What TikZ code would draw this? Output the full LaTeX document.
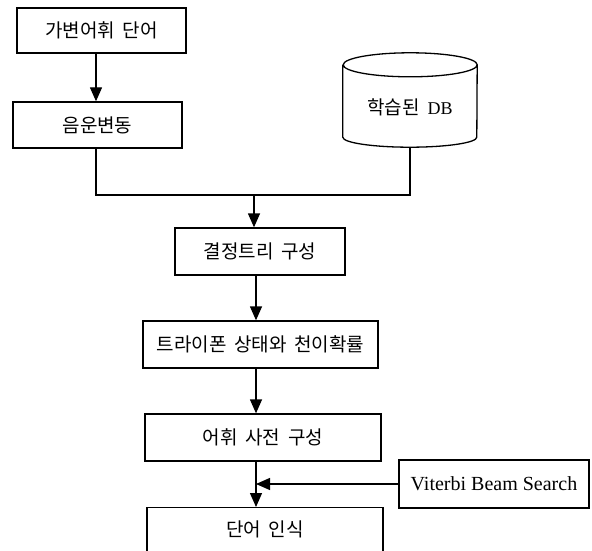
\documentclass[tikz,border=0pt]{standalone}
\usepackage{fontspec}
\setmainfont{Liberation Serif}
\newfontfamily\kr[WordSpace=1.8]{Noto Sans CJK KR}
\usetikzlibrary{arrows.meta,calc}
\begin{document}
\begin{tikzpicture}[x=1pt,y=-1pt,
  kfont/.style={font=\kr\fontsize{19}{21}\selectfont},
  box/.style={draw,line width=1.3pt,inner sep=0pt,kfont},
  line/.style={line width=1.3pt},
  arr/.style={line width=1.3pt,-{Triangle[length=14pt,width=12pt]}}]
\useasboundingbox (0,0) rectangle (592,551);
\clip (0,0) rectangle (592,551);
% boxes (center, width x height)
\node[box,minimum width=169pt,minimum height=45pt] (b1) at (101.5,30.5) {가변어휘 단어};
\node[box,minimum width=169pt,minimum height=46pt] (b2) at (97.5,125) {음운변동};
\node[box,minimum width=170pt,minimum height=47pt] (b3) at (260,251.5) {결정트리 구성};
\node[box,minimum width=235pt,minimum height=47pt] (b4) at (260.5,344.5) {트라이폰 상태와 천이확률};
\node[box,minimum width=236pt,minimum height=47pt] (b5) at (263,437.5) {어휘 사전 구성};
\node[box,minimum width=236pt,minimum height=60pt,anchor=north] (b6) at (265,507) {};
\node[kfont] (b6t) at (265,529) {단어 인식};
\node[box,font=\fontsize{20}{22}\selectfont,minimum width=190pt,minimum height=48pt] (vb) at (494,484) {Viterbi Beam Search};
% database cylinder
\node[minimum width=134pt,minimum height=94pt,inner sep=0pt] (db) at (410,100) {};
\node[kfont] (dbt) at (410,107) {학습된 {\rmfamily\fontsize{18}{20}\selectfont DB}};
\draw[line] ([yshift=-12pt]db.north west) -- ([yshift=10pt]db.south west)
  arc[start angle=180,end angle=360,x radius=67pt,y radius=10pt]
  -- ([yshift=-12pt]db.north east)
  arc[start angle=0,end angle=180,x radius=67pt,y radius=12pt]
  arc[start angle=180,end angle=360,x radius=67pt,y radius=12pt];
% connectors
\coordinate (j1) at (96,195);
\coordinate (j2) at (254,195);
\coordinate (k2) at (256,0);
\coordinate (k3) at (256,0);
\draw[arr] (b1.south -| j1) -- (b2.north -| j1);
\draw[line] (b2.south -| j1) -- (j1) -- (j1 -| db.south) -- (db.south);
\draw[arr] (j2) -- (j2 |- b3.north);
\draw[arr] (b3.south -| k2) -- (b4.north -| k2);
\draw[arr] (b4.south -| k2) -- (b5.north -| k2);
\draw[arr] (b5.south -| k3) -- (b6.north -| k3);
\draw[arr] (vb.west) -- (vb.west -| k3);
\end{tikzpicture}
\end{document}
